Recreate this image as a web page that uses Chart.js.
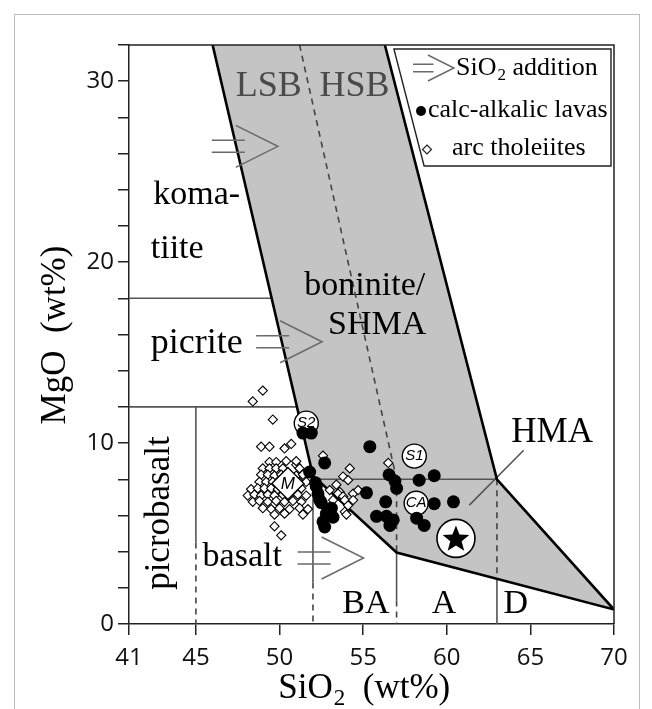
<!DOCTYPE html>
<html>
<head>
<meta charset="utf-8">
<script src="https://cdn.jsdelivr.net/npm/chart.js@4.4.1/dist/chart.umd.min.js"></script>
<style>
  html, body { margin: 0; padding: 0; background: #fff; }
  #wrap { position: relative; width: 652px; height: 709px; overflow: hidden; }
  #frame { position: absolute; left: 14px; top: 14px; width: 624px; height: 720px; border: 1px solid #bdbdbd; }
  canvas { position: absolute; left: 0; top: 0; }
</style>
</head>
<body>
<div id="wrap"><div id="frame"></div><canvas id="c" width="652" height="709"></canvas></div>
<script>
// axis ticks
const xTicks = [41, 45, 50, 55, 60, 65, 70];
const yLabelled = [0, 10, 20, 30];

// calc-alkalic lavas [SiO2, MgO]
const calcAlkalic = [
  [51.4, 10.55], [51.9, 10.55], [55.4, 9.8], [52.7, 8.9], [51.8, 8.4], [52.15, 7.8], [52.3, 7.2],
  [52.5, 6.7], [52.8, 6.1], [52.7, 5.36], [52.6, 5.65], [52.4, 6.85], [52.2, 7.6], [53.1, 6.4],
  [53.2, 5.9], [56.55, 8.25], [56.9, 7.9], [57.0, 7.5], [58.35, 7.95], [59.25, 8.2], [55.2, 7.25],
  [56.35, 6.75], [55.8, 5.95], [56.4, 5.95], [56.8, 5.75], [56.6, 5.45], [58.2, 5.85], [58.65, 5.45],
  [59.25, 6.65], [60.4, 6.75]
];

// arc tholeiites [SiO2, MgO]
const tholeiites = [
  [48.4, 12.3], [49.0, 12.9], [49.6, 11.3], [48.9, 9.8], [49.4, 9.8], [50.3, 9.7], [50.7, 9.95],
  [51.0, 8.8], [49.7, 5.4], [50.1, 4.9],
  [49.4, 8.95], [49.8, 8.95], [50.4, 9.0], [51.0, 9.0],
  [49.0, 8.6], [49.4, 8.6], [49.8, 8.6], [50.2, 8.6], [51.2, 8.6],
  [48.9, 8.25], [49.3, 8.25], [49.7, 8.2], [50.1, 8.25], [51.0, 8.2], [51.4, 8.25],
  [48.8, 7.85], [49.2, 7.85], [49.6, 7.85], [51.2, 7.85], [51.6, 7.85],
  [48.3, 7.45], [48.7, 7.5], [49.1, 7.5], [49.5, 7.5], [49.9, 7.45], [50.4, 7.5], [50.8, 7.45], [51.3, 7.5],
  [48.1, 7.1], [48.5, 7.15], [48.9, 7.1], [49.3, 7.15], [49.7, 7.1], [50.2, 7.15], [50.6, 7.1], [51.1, 7.15], [51.6, 7.1],
  [48.4, 6.75], [48.8, 6.8], [49.3, 6.75], [49.8, 6.8], [50.3, 6.75], [50.8, 6.8], [51.3, 6.75],
  [49.0, 6.4], [49.5, 6.35], [50.0, 6.4], [50.6, 6.35], [51.2, 6.4], [51.7, 6.35],
  [49.7, 6.05], [50.3, 6.1], [51.4, 6.05],
  [52.6, 9.3], [56.5, 8.9], [54.2, 8.6], [53.8, 8.15], [54.1, 7.95], [53.4, 7.7], [53.0, 7.4],
  [53.6, 7.3], [54.4, 7.2], [54.7, 7.4], [53.5, 7.2], [53.8, 7.05], [53.2, 6.85], [53.9, 6.85],
  [54.4, 6.85], [54.1, 6.55], [53.9, 6.2], [54.0, 6.05]
];

// reference compositions
const refNames = ['S2', 'S1', 'CA'];
const refSiO2 = [51.6, 58.06, 58.17];
const refMgO = [11.1, 9.28, 6.67];
const mantle = [50.5, 7.77];
const starPt = [60.55, 4.73];

// classification boundaries
const fieldOutline = [[46, 32], [52, 8.2], [57, 3.95], [70, 0.8], [63, 8], [56.3, 32]];
const greyLines = [
  [[41, 18], [49.6, 18]], [[41, 12], [51.1, 12]], [[52, 8], [63, 8]],
  [[45, 12], [45, 4.5]], [[52, 8.2], [52, 2.3]], [[57, 3.95], [57, 1.3]], [[63, 2.5], [63, 0]],
  [[61.35, 6.57], [64.6, 9.6]]
];
const dashedLines = [
  [[45, 4.5], [45, 0]], [[52, 2.3], [52, 0]], [[57, 8], [57, 3.95]], [[57, 1.3], [57, 0]],
  [[63, 8], [63, 2.5]], [[51.2, 32], [57, 8]]
];
// SiO2 addition arrows [SiO2 start, MgO]
const arrows = [[45.95, 26.4], [48.6, 15.6], [51.08, 3.65]];

const SERIF = '"Liberation Serif", "Times New Roman", serif';
const pts = arr => arr.map(([x, y]) => ({ x, y }));

const lineSets = [
  { data: pts(fieldOutline), borderColor: '#000', borderWidth: 2.6 },
  ...greyLines.map(l => ({ data: pts(l), borderColor: '#555', borderWidth: 1.6 })),
  ...dashedLines.map(l => ({ data: pts(l), borderColor: '#444', borderWidth: 1.6, borderDash: [6, 5] }))
].map(d => Object.assign(d, { showLine: true, pointRadius: 0, fill: false, order: 10 }));

function toPx(chart, a, b) {
  return [chart.scales.x.getPixelForValue(a), chart.scales.y.getPixelForValue(b)];
}

function drawArrow(ctx, x0, yc, s) {
  ctx.save();
  ctx.strokeStyle = '#6a6a6a';
  ctx.lineWidth = 1.5;
  ctx.beginPath();
  ctx.moveTo(x0, yc - 6 * s); ctx.lineTo(x0 + 33 * s, yc - 6 * s);
  ctx.moveTo(x0, yc + 6 * s); ctx.lineTo(x0 + 33 * s, yc + 6 * s);
  ctx.moveTo(x0 + 24 * s, yc - 21 * s); ctx.lineTo(x0 + 66 * s, yc); ctx.lineTo(x0 + 24 * s, yc + 21 * s);
  ctx.stroke();
  ctx.restore();
}

function subText(ctx, x, y, main, sub, rest, size) {
  // draws e.g. SiO2 with subscript, left aligned at x, middle baseline y
  ctx.textAlign = 'left';
  ctx.font = size + 'px ' + SERIF;
  ctx.fillText(main, x, y);
  let w = ctx.measureText(main).width;
  ctx.font = Math.round(size * 0.65) + 'px ' + SERIF;
  ctx.fillText(sub, x + w + 1, y + size * 0.28);
  w += ctx.measureText(sub).width + 1;
  ctx.font = size + 'px ' + SERIF;
  ctx.fillText(rest, x + w, y);
  return w + ctx.measureText(rest).width;
}

const decor = {
  id: 'decor',
  beforeDatasetsDraw(chart) {
    const ctx = chart.ctx;
    ctx.save();
    ctx.beginPath();
    fieldOutline.forEach(([a, b], i) => {
      const [px, py] = toPx(chart, a, b);
      i ? ctx.lineTo(px, py) : ctx.moveTo(px, py);
    });
    ctx.closePath();
    ctx.fillStyle = '#c4c4c4';
    ctx.fill();
    ctx.restore();
  },
  afterDatasetsDraw(chart) {
    const ctx = chart.ctx;
    const area = chart.chartArea;
    ctx.save();

    // arrows
    arrows.forEach(([a, b]) => { const [px, py] = toPx(chart, a, b); drawArrow(ctx, px, py, 1); });

    // field labels
    const label = (t, a, b, size, color, align) => {
      const [px, py] = toPx(chart, a, b);
      ctx.font = size + 'px ' + SERIF;
      ctx.fillStyle = color || '#000';
      ctx.textAlign = align || 'center';
      ctx.textBaseline = 'middle';
      ctx.fillText(t, px, py);
    };
    label('LSB', 49.35, 29.72, 36, '#4a4a4a');
    label('HSB', 54.48, 29.72, 36, '#4a4a4a');
    label('koma-', 42.45, 23.7, 34, '#000', 'left');
    label('tiite', 42.3, 20.7, 34, '#000', 'left');
    label('picrite', 42.3, 15.5, 36, '#000', 'left');
    label('boninite/', 55.1, 18.7, 34);
    label('SHMA', 52.9, 16.5, 34, '#000', 'left');
    label('HMA', 66.3, 10.55, 35);
    label('basalt', 45.4, 3.7, 34, '#000', 'left');
    label('BA', 53.75, 1.1, 34, '#000', 'left');
    label('A', 59.1, 1.1, 34, '#000', 'left');
    label('D', 63.4, 1.1, 34, '#000', 'left');
    {
      const [px, py] = toPx(chart, 42.85, 6.13);
      ctx.save();
      ctx.translate(px, py);
      ctx.rotate(-Math.PI / 2);
      ctx.font = '35px ' + SERIF;
      ctx.textAlign = 'center';
      ctx.textBaseline = 'middle';
      ctx.fillStyle = '#000';
      ctx.fillText('picrobasalt', 0, 0);
      ctx.restore();
    }

    // reference marker labels
    ctx.font = 'italic 15px "Liberation Sans", Arial, sans-serif';
    ctx.textAlign = 'center';
    ctx.textBaseline = 'middle';
    ctx.fillStyle = '#000';
    refNames.forEach((n, i) => {
      const [px, py] = toPx(chart, refSiO2[i], refMgO[i]);
      ctx.fillText(n, px, py);
    });
    {
      const [px, py] = toPx(chart, mantle[0], mantle[1]);
      ctx.font = 'italic 17px "Liberation Sans", Arial, sans-serif';
      ctx.fillText('M', px, py + 1);
    }
    {
      const [cx, cy] = toPx(chart, starPt[0], starPt[1]);
      ctx.beginPath();
      for (let k = 0; k < 10; k++) {
        const r = k % 2 ? 6 : 14;
        const ang = -Math.PI / 2 + k * Math.PI / 5;
        const px = cx + r * Math.cos(ang), py = cy + r * Math.sin(ang) + 1;
        k ? ctx.lineTo(px, py) : ctx.moveTo(px, py);
      }
      ctx.closePath();
      ctx.fill();
    }

    // frame top / right
    ctx.strokeStyle = '#222';
    ctx.lineWidth = 1.5;
    ctx.beginPath();
    ctx.moveTo(area.left, area.top); ctx.lineTo(area.right, area.top); ctx.lineTo(area.right, area.bottom);
    ctx.stroke();

    // legend box, left side parallel to the field boundary
    const [ax, ay] = toPx(chart, 63, 8), [bx, by] = toPx(chart, 56.3, 32);
    const edgeX = yy => ax + (bx - ax) * (yy - ay) / (by - ay) + 8;
    const lt = area.top + 4, lb = area.top + 121, lr = area.right - 3;
    ctx.fillStyle = '#fff';
    ctx.beginPath();
    ctx.moveTo(edgeX(lt), lt); ctx.lineTo(lr, lt); ctx.lineTo(lr, lb); ctx.lineTo(edgeX(lb), lb);
    ctx.closePath();
    ctx.fill();
    ctx.lineWidth = 1.4;
    ctx.stroke();

    ctx.fillStyle = '#000';
    ctx.textBaseline = 'middle';
    // row 1
    ctx.save();
    ctx.translate(413, 68);
    drawArrow(ctx, 0, 0, 0.62);
    ctx.restore();
    subText(ctx, 456, 68, 'SiO', '2', ' addition', 26);
    // row 2
    ctx.beginPath();
    ctx.arc(421, 111, 5, 0, Math.PI * 2);
    ctx.fill();
    ctx.font = '26px ' + SERIF;
    ctx.textAlign = 'left';
    ctx.fillText('calc-alkalic lavas', 428, 110);
    // row 3
    ctx.beginPath();
    ctx.moveTo(427, 145); ctx.lineTo(431.5, 149.5); ctx.lineTo(427, 154); ctx.lineTo(422.5, 149.5);
    ctx.closePath();
    ctx.lineWidth = 1.2;
    ctx.stroke();
    ctx.fillText('arc tholeiites', 452, 148);

    // axis titles
    ctx.save();
    ctx.translate(56, 335);
    ctx.rotate(-Math.PI / 2);
    ctx.font = '35px ' + SERIF;
    ctx.textAlign = 'center';
    ctx.fillText('MgO  (wt%)', 0, 0);
    ctx.restore();
    {
      ctx.font = '35px ' + SERIF;
      const w = ctx.measureText('SiO  (wt%)').width + 16;
      subText(ctx, 366 - w / 2, 689, 'SiO', '2', '  (wt%)', 35);
    }
    ctx.restore();
  }
};

new Chart(document.getElementById('c'), {
  type: 'scatter',
  data: {
    datasets: [
      { label: 'star', data: [{ x: starPt[0], y: starPt[1] }], pointStyle: 'circle', pointRadius: 19,
        backgroundColor: '#fff', borderColor: '#000', borderWidth: 1.6, order: 1 },
      { label: 'calc-alkalic lavas', data: pts(calcAlkalic), pointStyle: 'circle', pointRadius: 6.5,
        backgroundColor: '#000', borderColor: '#000', borderWidth: 0, order: 2 },
      { label: 'refs', data: refSiO2.map((v, i) => ({ x: v, y: refMgO[i] })), pointStyle: 'circle', pointRadius: 12,
        backgroundColor: '#fff', borderColor: '#000', borderWidth: 1.4, order: 3 },
      { label: 'mantle', data: [{ x: mantle[0], y: mantle[1] }], pointStyle: 'rectRot', pointRadius: 16,
        backgroundColor: '#fff', borderColor: '#000', borderWidth: 1.4, order: 4 },
      { label: 'arc tholeiites', data: pts(tholeiites), pointStyle: 'rectRot', pointRadius: 4.6,
        backgroundColor: '#fff', borderColor: '#000', borderWidth: 1.1, order: 5 },
      ...lineSets
    ]
  },
  options: {
    responsive: false,
    animation: false,
    events: [],
    layout: { padding: { left: 0, top: 45, right: 38, bottom: 0 } },
    plugins: { legend: { display: false }, tooltip: { enabled: false } },
    scales: {
      x: {
        type: 'linear', min: 41, max: 70,
        afterBuildTicks: s => { s.ticks = xTicks.map(v => ({ value: v })); },
        afterFit: s => { s.height = 85; },
        ticks: { autoSkip: false, maxRotation: 0, padding: 9, color: '#111',
          font: { family: '"Open Sans", sans-serif', size: 24 } },
        grid: { drawOnChartArea: false, drawTicks: true, tickLength: 11, color: '#222', lineWidth: 1.5 },
        border: { display: true, color: '#222', width: 1.5 }
      },
      y: {
        min: 0, max: 32,
        afterFit: s => { s.width = 129; },
        ticks: { stepSize: 2, autoSkip: false, padding: 4, color: '#111',
          callback: v => yLabelled.includes(v) ? String(v) : '',
          font: { family: '"Open Sans", sans-serif', size: 24 } },
        grid: { drawOnChartArea: false, drawTicks: true, tickLength: 11, color: '#222', lineWidth: 1.5 },
        border: { display: true, color: '#222', width: 1.5 }
      }
    }
  },
  plugins: [decor]
});
</script>
</body>
</html>
